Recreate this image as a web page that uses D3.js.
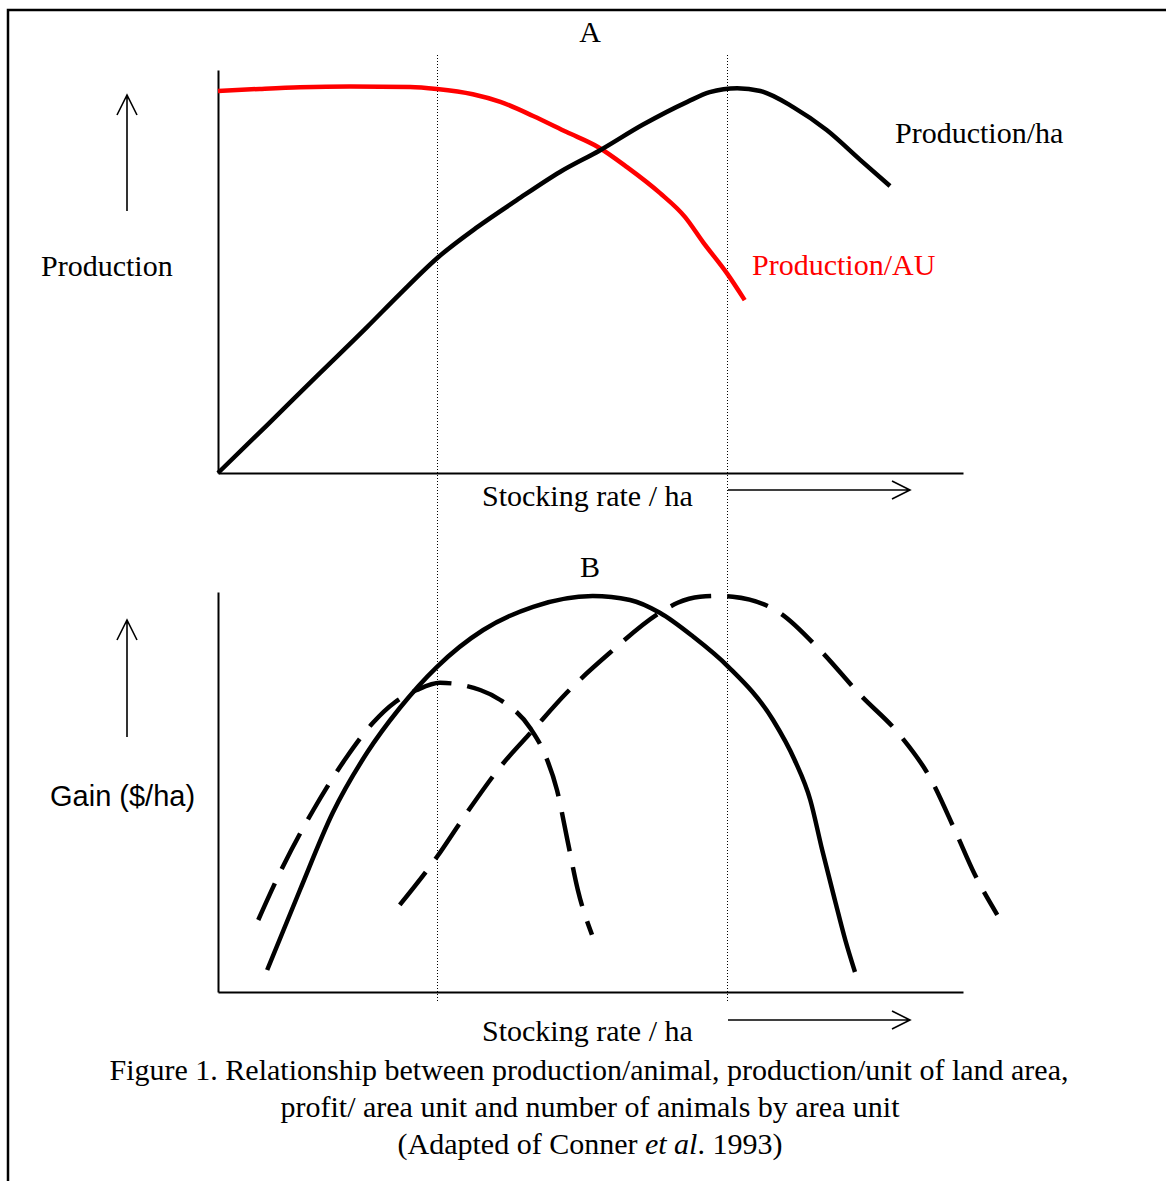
<!DOCTYPE html>
<html>
<head>
<meta charset="utf-8">
<script src="https://cdn.jsdelivr.net/npm/d3@7/dist/d3.min.js"></script>
<style>
  html, body { margin: 0; padding: 0; background: #fff; }
  svg { display: block; }
</style>
</head>
<body>
<svg id="chart" width="1166" height="1181"></svg>
<script>
// ---------------- DATA (stocking rate units 0-100, response units 0-100) ----------------
// Panel A
const prodAU_x = [0, 5.6, 11.0, 17.7, 25.8, 29.4, 34.2, 37.9, 42.3, 46.8, 51.0, 54.9, 59.3, 62.7, 65.1, 68.3, 70.7];
const prodAU_y = [94.8, 95.3, 95.7, 95.9, 95.8, 95.3, 94.0, 92.1, 88.6, 84.6, 80.9, 75.9, 69.5, 63.5, 57.3, 49.6, 42.9];
const prodHa_x = [0, 6.6, 13.3, 20.0, 24.4, 29.4, 34.8, 40.1, 45.9, 51.3, 57.0, 63.0, 66.0, 69.7, 72.8, 77.2, 81.7, 86.2, 90.2];
const prodHa_y = [0, 11.9, 24.1, 36.2, 44.4, 53.3, 61.0, 67.7, 74.7, 80.1, 86.4, 92.1, 94.5, 95.5, 94.8, 90.8, 85.1, 77.7, 71.2];
// Panel B
const gainSolid_x = [6.6, 11.0, 15.4, 20.0, 24.4, 29.4, 35.6, 42.3, 50.3, 55.3, 59.3, 63.8, 68.5, 74.5, 77.4, 79.5, 81.1, 82.8, 84.2, 85.5];
const gainSolid_y = [5.5, 25.5, 44.8, 59.8, 71.0, 81.3, 90.5, 96.3, 99.0, 98.0, 94.8, 88.8, 81.3, 68.0, 58.0, 48.0, 35.5, 23.0, 13.0, 5.0];
const gainLow_x = [5.4, 8.7, 12.8, 17.3, 20.8, 23.8, 26.7, 29.8, 35.2, 37.9, 41.9, 43.9, 45.5, 46.9, 48.3, 50.2];
const gainLow_y = [18.0, 31.3, 45.5, 58.8, 67.3, 72.5, 75.5, 77.3, 75.5, 73.0, 66.0, 59.3, 50.5, 38.0, 25.5, 14.3];
const gainHigh_x = [24.4, 29.4, 33.4, 37.9, 42.3, 46.8, 52.6, 59.3, 61.7, 64.7, 67.0, 69.1, 75.4, 80.8, 86.2, 91.5, 95.6, 98.9, 101.6, 104.6];
const gainHigh_y = [21.8, 33.8, 44.8, 56.3, 65.5, 74.8, 84.8, 94.8, 97.3, 98.8, 99.0, 98.8, 94.8, 85.5, 74.3, 64.3, 53.5, 40.5, 29.3, 19.3];
// Reference stocking rates (dotted verticals)
const refRates = [29.4, 68.3];
// Text
const panelTitles = ["A", "B"];
const yLabels = ["Production", "Gain ($/ha)"];
const xLabel = "Stocking rate / ha";
const curveLabels = ["Production/ha", "Production/AU"];
const captionLines = [
  "Figure 1. Relationship between production/animal, production/unit of land area,",
  "profit/ area unit and number of animals by area unit"
];
const captionLast = ["(Adapted of Conner ", "et al", ". 1993)"];

// ---------------- DRAWING ----------------
const svg = d3.select("#chart");
const serif = "'Liberation Serif', 'Times New Roman', serif";
const sans = "'Liberation Sans', Arial, sans-serif";

// frame
svg.append("path").attr("d", "M8,1181V10H1166").attr("fill", "none")
  .attr("stroke", "#000").attr("stroke-width", 2.5);

const x = d3.scaleLinear().domain([0, 100]).range([218, 963]);
const yA = d3.scaleLinear().domain([0, 100]).range([473, 70]);
const yB = d3.scaleLinear().domain([0, 100]).range([992, 592]);

const zip = (xs, ys) => xs.map((v, i) => [v, ys[i]]);

// dotted reference lines spanning both panels
svg.append("g").selectAll("line").data(refRates).join("line")
  .attr("x1", d => Math.round(x(d)) + 0.5).attr("x2", d => Math.round(x(d)) + 0.5)
  .attr("y1", 55).attr("y2", 1003)
  .attr("stroke", "#000").attr("stroke-width", 1).attr("stroke-dasharray", "1,2");

function axes(y, yTop) {
  svg.append("g").attr("transform", `translate(0,${y(0)})`)
    .call(d3.axisBottom(x).ticks(0).tickSizeOuter(0))
    .call(g => g.select(".domain").attr("stroke-width", 2));
  svg.append("g").attr("transform", `translate(${x(0)},0)`)
    .call(d3.axisLeft(d3.scaleLinear().domain([0, 1]).range([y(0), yTop])).ticks(0).tickSizeOuter(0))
    .call(g => g.select(".domain").attr("stroke-width", 2));
}
axes(yA, 70);
axes(yB, 592);

function curve(xs, ys, y, color, dash) {
  const line = d3.line().x(d => x(d[0])).y(d => y(d[1])).curve(d3.curveMonotoneX);
  const p = svg.append("path").datum(zip(xs, ys)).attr("d", line)
    .attr("fill", "none").attr("stroke", color).attr("stroke-width", 4.5)
    .attr("stroke-linejoin", "round");
  if (dash) p.attr("stroke-dasharray", dash);
}
curve(prodAU_x, prodAU_y, yA, "#ff0000");
curve(prodHa_x, prodHa_y, yA, "#000");
curve(gainSolid_x, gainSolid_y, yB, "#000");
curve(gainLow_x, gainLow_y, yB, "#000", "40,16");
curve(gainHigh_x, gainHigh_y, yB, "#000", "42,16");

// arrows
function vArrow(xp, yBottom, yTip) {
  svg.append("path").attr("d", `M${xp},${yBottom}V${yTip}M${xp - 10},${yTip + 20}L${xp},${yTip}L${xp + 10},${yTip + 20}`)
    .attr("fill", "none").attr("stroke", "#000").attr("stroke-width", 1.6);
}
function hArrow(yp, x0, xTip) {
  svg.append("path").attr("d", `M${x0},${yp}H${xTip}M${xTip - 18},${yp - 9}L${xTip},${yp}L${xTip - 18},${yp + 9}`)
    .attr("fill", "none").attr("stroke", "#000").attr("stroke-width", 1.6);
}
vArrow(127, 211, 95);
vArrow(127, 737, 620);
hArrow(490, 728, 910);
hArrow(1020, 728, 910);

// texts
function txt(s, xp, yp, opts = {}) {
  return svg.append("text").attr("x", xp).attr("y", yp)
    .attr("font-family", opts.family || serif).attr("font-size", opts.size || 30)
    .attr("fill", opts.color || "#000").attr("text-anchor", opts.anchor || "start").text(s);
}
txt(panelTitles[0], 590, 42, {anchor: "middle"});
txt(panelTitles[1], 590, 577, {anchor: "middle"});
txt(yLabels[0], 41, 276);
txt(yLabels[1], 50, 806, {family: sans, size: 29});
txt(xLabel, 482, 506);
txt(xLabel, 482, 1041);
txt(curveLabels[0], 895, 143);
txt(curveLabels[1], 752, 275, {color: "#ff0000"});
txt(captionLines[0], 589, 1080, {anchor: "middle"});
txt(captionLines[1], 590, 1117, {anchor: "middle"});
const last = txt("", 590, 1154, {anchor: "middle"});
last.append("tspan").text(captionLast[0]);
last.append("tspan").attr("font-style", "italic").text(captionLast[1]);
last.append("tspan").text(captionLast[2]);
</script>
</body>
</html>
